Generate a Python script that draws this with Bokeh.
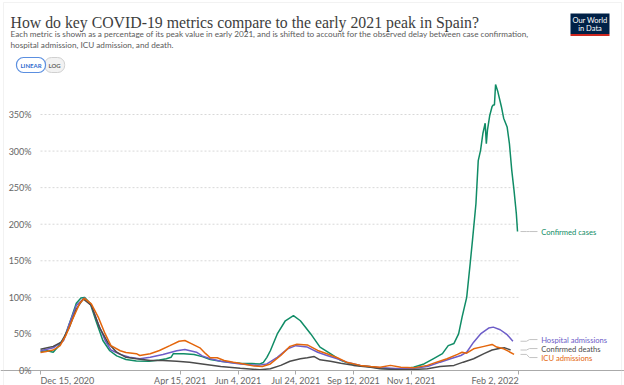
import pandas as pd
from bokeh.plotting import figure
from bokeh.models import (Range1d, Label, BoxAnnotation, FixedTicker,
                          PrintfTickFormatter, CustomJSTickFormatter)
from bokeh.core.properties import value
from bokeh.embed import file_html
from bokeh.resources import INLINE

# ---------------- data ----------------
START = "2020-12-15"

title_text = "How do key COVID-19 metrics compare to the early 2021 peak in Spain?"
subtitle_lines = [
    "Each metric is shown as a percentage of its peak value in early 2021, and is shifted to account for the observed delay between case confirmation,",
    "hospital admission, ICU admission, and death.",
]

series_names = ["Confirmed cases", "Hospital admissions", "Confirmed deaths", "ICU admissions"]
series_colors = ["#108c66", "#6d5dc8", "#4b4b4b", "#e4660c"]

# day offsets from START, value in % of early-2021 peak
cases_day = [0, 6, 11, 15, 21, 27, 31, 35, 38, 43, 48, 54, 60, 66, 74, 83, 94, 103, 109, 113,
             115, 124, 133, 140, 147, 156, 165, 173, 183, 190, 193, 196, 199, 205, 212, 219,
             225, 234, 242, 251, 260, 268, 277, 286, 294, 303, 312, 318, 323, 332, 340, 348,
             353, 358, 362, 365, 369, 372, 374, 377, 379, 381, 383, 385, 386, 387, 389, 391,
             392, 393, 394, 396, 399, 401, 404, 406, 408, 410, 412, 413]
cases_pct = [26, 27, 25, 32, 46, 73, 92, 99, 100, 92, 68, 41, 27, 20, 15, 13, 12.5, 14.5, 16, 18,
             23, 23, 22, 19, 15, 12.7, 11, 10, 9.5, 9, 11, 18, 27, 50, 68, 75,
             68, 50, 32, 23, 14, 9, 6.4, 5, 3.2, 2.5, 2.3, 3, 4.5, 9, 16, 23,
             34, 37, 50, 73, 100, 146, 178, 228, 287, 301, 324, 338, 310, 329, 349, 361,
             363, 363, 391, 381, 361, 345, 333, 310, 274, 246, 214, 190]

hosp_day = [0, 11, 20, 25, 31, 38, 44, 50, 56, 61, 69, 77, 86, 95, 106, 118, 125, 135, 140,
            147, 156, 173, 188, 196, 205, 214, 221, 231, 240, 248, 257, 265, 277, 286, 294,
            312, 323, 335, 346, 355, 364, 369, 375, 381, 388, 392, 398, 404, 409]
hosp_pct = [27, 31, 41, 64, 89, 99, 89, 64, 41, 28, 22, 18, 16, 18, 22, 27, 28.7, 25, 20,
            16, 12.7, 9, 7, 9, 18, 29.6, 34, 32, 25, 20.5, 16, 11.4, 7, 5, 3.6,
            2.3, 3, 5.5, 11.4, 16, 20.5, 25, 38.7, 50, 58, 59.3, 55.7, 49, 40]

deaths_day = [0, 11, 18, 25, 31, 37, 44, 51, 59, 66, 74, 83, 95, 106, 118, 129, 140, 156, 173,
              190, 199, 208, 216, 225, 231, 237, 242, 251, 260, 271, 286, 294, 312, 323, 335,
              346, 358, 366, 375, 384, 391, 398, 402, 407]
deaths_pct = [29, 33, 38.7, 59, 84, 98, 89, 59, 36.5, 25, 18, 16, 13.7, 13.7, 12.7, 11.4, 9, 5.5, 3.2,
              1, 2.3, 7, 12.7, 16, 17.4, 19, 14.6, 12.7, 10, 7, 4.5, 2.3, 1, 1.4, 2.3,
              5.5, 7, 11.4, 16, 23, 28, 30.5, 31, 28]

icu_day = [0, 5, 11, 17, 22, 28, 34, 38, 44, 50, 56, 61, 69, 74, 83, 86, 95, 103, 112, 120, 125,
           131, 138, 143, 147, 153, 159, 167, 176, 185, 192, 199, 208, 216, 222, 231, 240, 248,
           257, 265, 277, 286, 294, 303, 312, 323, 335, 343, 352, 361, 365, 369, 375, 384, 391,
           395, 401, 405, 410]
icu_pct = [24.6, 26, 28, 34, 48, 71, 92, 98.6, 91, 73, 50, 34, 27, 24.6, 23, 20.5, 23, 27.4, 34, 40, 41,
           36.5, 31, 23, 17.4, 17.4, 13.7, 11.4, 9, 6, 5.5, 9, 20.5, 33, 36, 35, 27.4, 23,
           17.4, 11.4, 7, 5.5, 4.5, 7, 4.5, 3.6, 7, 11.4, 16, 22, 25, 23.7, 29.6, 33, 35.6,
           32, 29.6, 26.4, 22]

x_tick_dates = ["2020-12-15", "2021-04-15", "2021-06-04", "2021-07-24",
                "2021-09-12", "2021-11-01", "2022-02-02"]
x_tick_labels = ["Dec 15, 2020", "Apr 15, 2021", "Jun 4, 2021", "Jul 24, 2021",
                 "Sep 12, 2021", "Nov 1, 2021", "Feb 2, 2022"]
y_ticks = [0, 50, 100, 150, 200, 250, 300, 350]

# ---------------- helpers ----------------
t0 = pd.Timestamp(START)


def to_dates(days):
    return [t0 + pd.Timedelta(days=d) for d in days]


def ms(ts):
    return pd.Timestamp(ts).value / 1e6


def spread(vals, gap):
    idx = sorted(range(len(vals)), key=lambda i: vals[i])
    blocks = []
    for i in idx:
        blocks.append([[i], vals[i]])
        while len(blocks) > 1:
            a, b = blocks[-2], blocks[-1]
            a_top = a[1] + gap * (len(a[0]) - 1) / 2
            b_bot = b[1] - gap * (len(b[0]) - 1) / 2
            if b_bot - a_top < gap:
                members = a[0] + b[0]
                c = sum(vals[m] for m in members) / len(members)
                blocks[-2:] = [[members, c]]
            else:
                break
    out = [0.0] * len(vals)
    for members, c in blocks:
        n = len(members)
        for k, m in enumerate(members):
            out[m] = c + gap * (k - (n - 1) / 2)
    return out


# ---------------- layout (frame covers whole canvas) ----------------
W, H = 624, 385
X0_PX, PX_PER_DAY = 40, 1.155        # canvas x of START, px per day
Y0_PX, PX_PER_PCT = 370, 0.7314      # canvas y of 0 %, px per %

x_rng = Range1d(t0 - pd.Timedelta(days=X0_PX / PX_PER_DAY),
                t0 + pd.Timedelta(days=(W - X0_PX) / PX_PER_DAY))
y_rng = Range1d(-(H - Y0_PX) / PX_PER_PCT, Y0_PX / PX_PER_PCT)


def pct_at(py):
    return (Y0_PX - py) / PX_PER_PCT


p = figure(width=W, height=H, x_axis_type="datetime", x_range=x_rng, y_range=y_rng,
           output_backend="svg", toolbar_location=None,
           min_border_left=0, min_border_right=0, min_border_top=0, min_border_bottom=0)
p.outline_line_color = None
p.xgrid.grid_line_color = None
p.ygrid.grid_line_color = None
p.background_fill_color = "white"
p.border_fill_color = "white"

FONT = "Lato"

# y axis, drawn at the start date
p.yaxis.fixed_location = ms(START)
p.yaxis.ticker = FixedTicker(ticks=y_ticks)
p.yaxis.formatter = PrintfTickFormatter(format="%d%%")
p.yaxis.axis_line_color = None
p.yaxis.major_tick_line_color = None
p.yaxis.minor_tick_line_color = None
p.yaxis.major_label_standoff = 3
p.yaxis.major_label_text_font = FONT
p.yaxis.major_label_text_font_size = "9px"
p.yaxis.major_label_text_color = "#666666"

# x axis at 0 % (ticks; labels aligned separately)
p.xaxis.fixed_location = 0
p.xaxis.ticker = FixedTicker(ticks=[ms(d) for d in x_tick_dates])
p.xaxis.formatter = CustomJSTickFormatter(code="return ''")
p.xaxis.axis_line_color = "#aaaaaa"
p.xaxis.major_tick_in = 0
p.xaxis.major_tick_out = 4
p.xaxis.major_tick_line_color = "#aaaaaa"
p.xaxis.minor_tick_line_color = None
p.xaxis.major_label_standoff = 0
p.xaxis.major_label_text_font_size = "0px"

last_tick = pd.Timestamp(x_tick_dates[-1])
first_tick = pd.Timestamp(x_tick_dates[0])

# dotted gridlines up to the last tick
for yt in y_ticks[1:]:
    p.segment(x0=[first_tick], y0=[yt], x1=[last_tick], y1=[yt],
              line_color="#d8d8d8", line_width=1, line_dash="2 2")

# x tick labels (first left-aligned, last right-aligned)
lab_y = pct_at(380)
n = len(x_tick_dates)
for sel, align in ((slice(0, 1), "left"), (slice(1, n - 1), "center"), (slice(n - 1, n), "right")):
    p.text(x=[pd.Timestamp(d) for d in x_tick_dates[sel]], y=[lab_y] * len(x_tick_labels[sel]),
           text=x_tick_labels[sel], text_align=align, text_baseline="middle",
           text_font=value(FONT), text_font_size="9px", text_color="#666666")

# series lines
series = [(cases_day, cases_pct), (hosp_day, hosp_pct), (deaths_day, deaths_pct), (icu_day, icu_pct)]
for (dd, vv), col in zip(series, series_colors):
    p.line(to_dates(dd), vv, line_color=col, line_width=1.5)

# end labels with leader lines
end_vals = [vv[-1] for dd, vv in series]
lab_pos = spread(end_vals, 12.3)
off = [1.6, 6.8, 9.4, 16.3]
for (dd, vv), ly in zip(series, lab_pos):
    xs = [last_tick + pd.Timedelta(days=o) for o in off]
    p.line(xs, [vv[-1], vv[-1], ly, ly], line_color="#c4c4c4", line_width=1)
p.text(x=[last_tick + pd.Timedelta(days=19.5)] * 4, y=lab_pos, text=series_names,
       text_color=series_colors, text_font=value(FONT), text_font_size="7.6px",
       text_baseline="middle", text_align="left")


# ---------------- header (screen units) ----------------
def sx(px):
    return px


def sy(py):
    return H - py


def scr_box(l, r, t, b, **kw):
    return BoxAnnotation(left=sx(l), right=sx(r), top=sy(t), bottom=sy(b),
                         left_units="screen", right_units="screen",
                         top_units="screen", bottom_units="screen", **kw)


# outer card border
p.add_layout(scr_box(3, 621, 2, 400, fill_alpha=0, line_color="#d4d4d4", line_width=1))

p.add_layout(Label(x=sx(10), y=sy(22), x_units="screen", y_units="screen", text=title_text,
                   text_font="Liberation Serif", text_font_size="15.8px", text_color="#3d3d3d",
                   text_baseline="alphabetic"))
for k, line in enumerate(subtitle_lines):
    p.add_layout(Label(x=sx(10), y=sy(33 + 11 * k), x_units="screen", y_units="screen", text=line,
                       text_font=FONT, text_font_size="8.2px", text_color="#5b5b5b",
                       text_baseline="middle"))

p.add_layout(Label(x=sx(44), y=sy(64.5), x_units="screen", y_units="screen", text="LOG",
                   text_font=FONT, text_font_size="6px", text_font_style="bold",
                   text_color="#666666", text_baseline="middle",
                   border_line_color="#d0d0d0", background_fill_color="#f2f2f2",
                   padding=4, border_radius=7))
p.add_layout(Label(x=sx(16), y=sy(64.5), x_units="screen", y_units="screen", text="LINEAR",
                   text_font=FONT, text_font_size="6px", text_font_style="bold",
                   text_color="#2f6bcf", text_baseline="middle",
                   border_line_color="#5b8fe0", border_line_width=1.2,
                   background_fill_color="white", padding=4, border_radius=7))

# logo
p.add_layout(scr_box(570, 609, 13, 33.5, fill_color="#002147", fill_alpha=1, line_color=None))
p.add_layout(scr_box(570, 609, 33.5, 35.5, fill_color="#ce261e", fill_alpha=1, line_color=None))
for k, t in enumerate(["Our World", "in Data"]):
    p.add_layout(Label(x=sx(589.5), y=sy(19.5 + 8.5 * k), x_units="screen", y_units="screen",
                       text=t, text_font=FONT, text_font_size="7.5px", text_color="white",
                       text_align="center", text_baseline="middle"))

open("out.html", "w").write(file_html(p, INLINE))
